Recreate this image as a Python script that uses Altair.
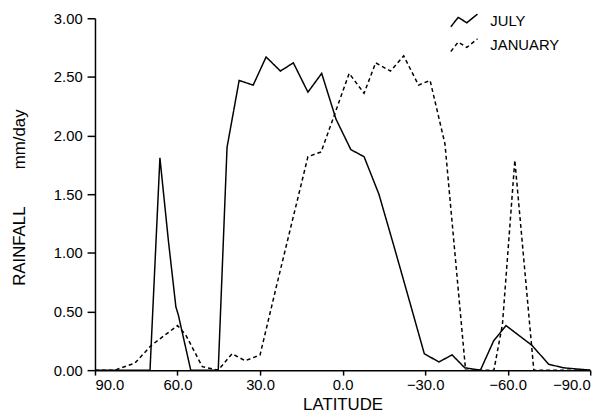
import altair as alt
import pandas as pd

# ---- data ----
july_lat = [90, 70.0, 66.4, 63.3, 60.6, 59.7, 55.2, 45.2, 42.0, 37.6, 32.5, 27.8,
            22.6, 17.9, 12.6, 7.6, 2.4, -3.0, -7.8, -13.2, -18.5, -23.7, -29.7,
            -35.0, -39.8, -44.4, -50.1, -54.9, -59.4, -68.9, -74.9, -80.3, -90]
july_val = [0, 0, 1.81, 1.10, 0.54, 0.47, 0, 0, 1.90, 2.47, 2.43, 2.67,
            2.55, 2.62, 2.37, 2.53, 2.14, 1.88, 1.82, 1.50, 1.07, 0.64, 0.14,
            0.07, 0.13, 0.02, 0, 0.25, 0.38, 0.21, 0.05, 0.02, 0]

jan_lat = [90, 82.8, 75.5, 69.6, 60.0, 57.0, 51.0, 45.2, 40.2, 35.4, 30.0, 24.0,
           18.0, 12.6, 7.8, -2.4, -7.8, -12.0, -17.4, -22.2, -27.6, -31.8, -37.2,
           -44.7, -55.0, -58.1, -62.6, -69.5, -90]
jan_val = [0, 0, 0.06, 0.21, 0.38, 0.30, 0.03, 0.0, 0.14, 0.08, 0.13, 0.72,
           1.30, 1.82, 1.86, 2.53, 2.36, 2.62, 2.55, 2.68, 2.43, 2.47, 1.93,
           0, 0, 0.39, 1.79, 0, 0]

series_names = ["JULY", "JANUARY"]
x_ticks = [90, 60, 30, 0, -30, -60, -90]
y_ticks = [0, 0.5, 1.0, 1.5, 2.0, 2.5, 3.0]

rows = []
for name, lats, vals in [("JULY", july_lat, july_val), ("JANUARY", jan_lat, jan_val)]:
    for i, (la, v) in enumerate(zip(lats, vals)):
        rows.append({"lat": la, "rain": v, "series": name, "idx": i})
df = pd.DataFrame(rows)

FONT = "Liberation Sans"
zigzag = "M-1,0.45L-0.45,-0.25L0.2,0.15L1,-0.5"
NB = "\u00a0"

common_axis = dict(grid=False, domainColor="black", domainWidth=1.5,
                   tickColor="black", tickWidth=1.5, labelColor="black",
                   labelFont=FONT, labelFontSize=15, titleFont=FONT,
                   titleColor="black", titleFontWeight="normal")

chart = alt.Chart(df).mark_line(color="black", strokeWidth=1.5).encode(
    x=alt.X("lat:Q",
            scale=alt.Scale(domain=[90, -90], nice=False, zero=False),
            axis=alt.Axis(values=x_ticks, format=".1f", title="LATITUDE",
                          tickSize=5, labelPadding=3,
                          titleY=40, titleBaseline="alphabetic",
                          titleFontSize=17, **common_axis)),
    y=alt.Y("rain:Q",
            scale=alt.Scale(domain=[0, 3], nice=False),
            axis=alt.Axis(values=y_ticks, format=".2f",
                          title="RAINFALL" + NB * 8 + "mm/day",
                          tickSize=8, labelPadding=5,
                          titleX=-71, titleY=181, titleAngle=270,
                          titleAlign="center", titleBaseline="alphabetic",
                          titleFontSize=17, **common_axis)),
    strokeDash=alt.StrokeDash("series:N",
                              scale=alt.Scale(domain=series_names, range=[[1, 0], [4, 3]]),
                              legend=alt.Legend(orient="none", legendX=359, legendY=-12,
                                                title=None, symbolType=zigzag,
                                                symbolSize=729, symbolStrokeWidth=1.5,
                                                symbolStrokeColor="black",
                                                symbolFillColor="transparent",
                                                labelFont=FONT, labelFontSize=15,
                                                labelColor="black", labelOffset=12,
                                                rowPadding=1, padding=0)),
    order="idx:Q",
).properties(
    width=501, height=356,
    autosize=alt.AutoSizeParams(type="none"),
    padding={"left": 88, "top": 8, "right": 18, "bottom": 44},
    background="white",
).configure_view(stroke=None)

chart.save("out.html", embed_options={"renderer": "svg", "actions": False})
